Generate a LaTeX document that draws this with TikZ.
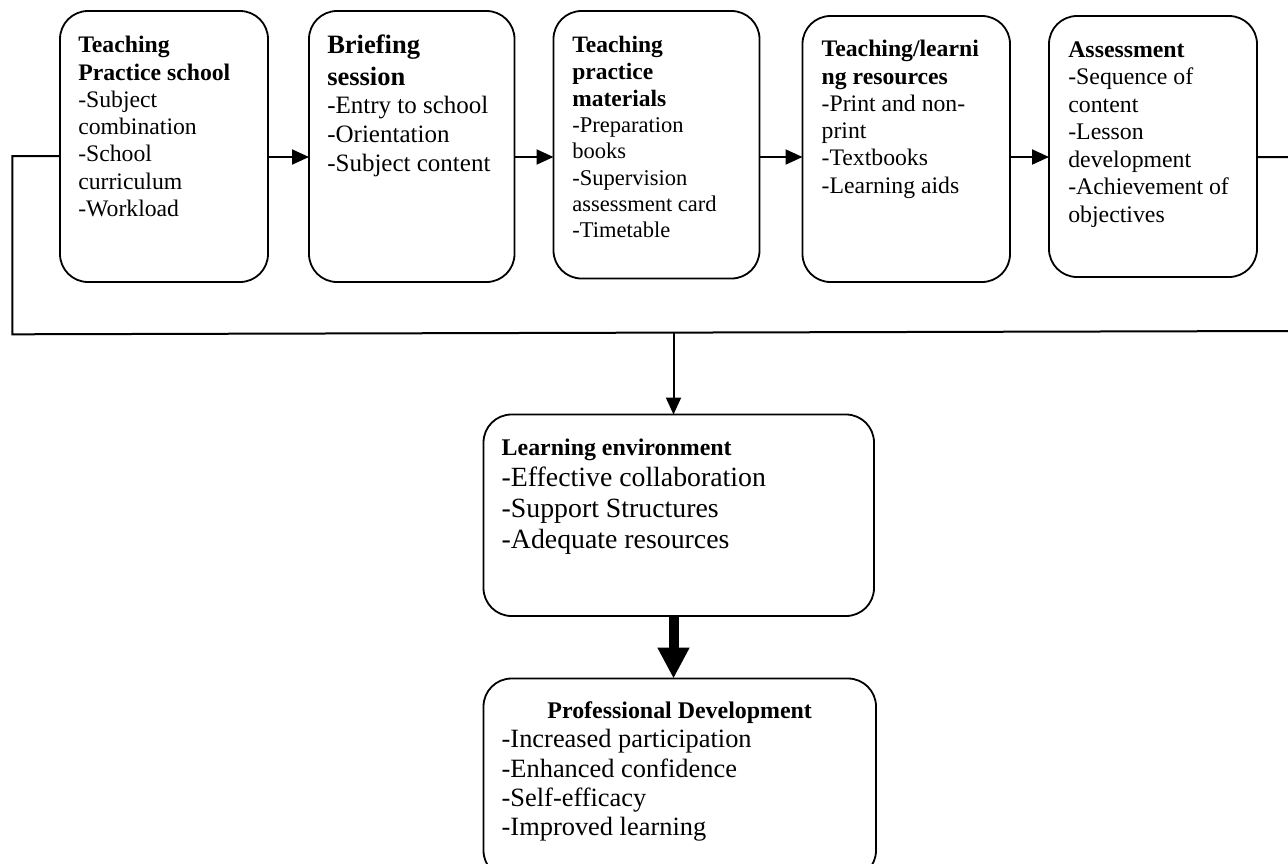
\documentclass[tikz,border=0pt]{standalone}
\usepackage{fontspec}
\setmainfont{Liberation Serif}
\usetikzlibrary{arrows.meta}
\newcommand\myfs[2]{\fontsize{#1}{#2}\selectfont\spaceskip=0pt\xspaceskip=0pt\relax}
\begin{document}
\begin{tikzpicture}[x=1pt,y=-1pt,
  box/.style={draw, line width=1.8pt, rounded corners=28pt, inner sep=0pt, outer sep=0pt, anchor=north west},
  txt/.style={anchor=base west, inner sep=0pt, outer sep=0pt, text width=#1, align=left,
              execute at begin node={\parindent=0pt\parskip=0pt}},
  txt/.default=200pt,
  conn/.style={line width=2pt},
  arr/.style={line width=2pt, -{Triangle[length=17pt,width=15pt]}},
  bigarr/.style={line width=10pt, -{Triangle[length=31pt,width=30pt]}}
]
\useasboundingbox (0,0) rectangle (1288,863);

% top row boxes
\node[box, minimum width=208pt,   minimum height=271pt]   (b1) at (60,11) {};
\node[box, minimum width=205.5pt, minimum height=271pt]   (b2) at (309,11) {};
\node[box, minimum width=206pt,   minimum height=267.5pt] (b3) at (553.5,11) {};
\node[box, minimum width=207.5pt, minimum height=266pt]   (b4) at (802.5,16) {};
\node[box, minimum width=208pt,   minimum height=261pt]   (b5) at (1049,16) {};
% lower boxes
\node[box, minimum width=390.5pt, minimum height=201.5pt] (le) at (483.5,414.5) {};
\node[box, minimum width=392.5pt, minimum height=200pt]   (pd) at (483.5,678.5) {};

% texts
\node[txt] (t1) at (78.3,52.7) {\myfs{23.7}{27.3}%
  \textbf{Teaching\\Practice school}\\-Subject\\combination\\-School\\curriculum\\-Workload\par};
\node[txt] (t2) at (327.3,53.3) {{\myfs{26.5}{31.7}\bfseries Briefing\\session\par}%
  {\myfs{25}{28.8}-Entry to school\\-Orientation\\-Subject content\par}};
\node[txt] (t3) at (572.3,52.3) {{\myfs{23.5}{27}\bfseries Teaching\\practice\\materials\par}%
  {\myfs{22.5}{26.3}-Preparation\\books\\-Supervision\\assessment card\\-Timetable\par}};
\node[txt] (t4) at (821.7,56.7) {\myfs{23.7}{27.3}%
  \textbf{Teaching/learni\\ng resources}\\-Print and non-\\print\\-Textbooks\\-Learning aids\par};
\node[txt] (t5) at (1068.3,57.3) {\myfs{23.8}{27.5}%
  \textbf{Assessment}\\-Sequence of\\content\\-Lesson\\development\\-Achievement of\\objectives\par};
\node[txt=360pt] (tle) at (501.7,455) {{\myfs{23.9}{28}\bfseries Learning environment\par}%
  {\myfs{27.8}{31.2}-Effective collaboration\\-Support Structures\\-Adequate resources\par}};
\node[txt=356pt] (tpd) at (501.7,718.3) {{\centering\myfs{23.9}{28}\bfseries Professional Development\par}%
  {\raggedright\myfs{26.4}{29.4}-Increased participation\\-Enhanced confidence\\-Self-efficacy\\-Improved learning\par}};

% arrows along the top row
\coordinate (row) at (0,157);
\draw[arr] (b1.east |- row) -- (b2.west |- row);
\draw[arr] (b2.east |- row) -- (b3.west |- row);
\draw[arr] (b3.east |- row) -- (b4.west |- row);
\draw[arr] (b4.east |- row) -- (b5.west |- row);

% feedback loop
\coordinate (rtop) at (1291,157);
\coordinate (rbot) at (1291,331);
\coordinate (lbot) at (12.3,334.3);
\coordinate (ltop) at (12.3,156);
\draw[conn] (b5.east |- rtop) -- (rtop) -- (rbot) -- (lbot) -- (ltop) -- (b1.west |- ltop);

% down to learning environment
\coordinate (j) at (673.5,332.6);
\draw[arr] (j) -- (j |- le.north);

% thick arrow
\draw[bigarr] (le.south -| j) -- (pd.north -| j);
\end{tikzpicture}
\end{document}
